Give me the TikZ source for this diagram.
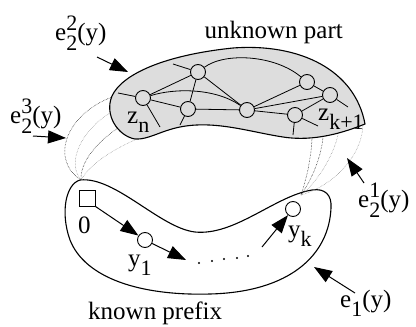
\documentclass[tikz,border=0pt]{standalone}
\usepackage{fontspec}
\setmainfont{Liberation Serif}
\usetikzlibrary{arrows.meta}
\definecolor{partgray}{RGB}{221,221,221}
\newcommand\lo[1]{\raisebox{-0.36em}{\fontsize{22}{22}\selectfont #1}}
\newcommand\hilo[2]{\makebox[0pt][l]{\raisebox{0.40em}{\fontsize{22}{22}\selectfont #1}}\raisebox{-0.40em}{\fontsize{22}{22}\selectfont #2}}
\tikzset{prefsec/.style={x=1pt,y=-1pt,font=\fontsize{25}{30}\selectfont},
  blob/.style={line width=1.1pt},
  net/.style={line width=0.8pt},
  vtx/.style={circle,draw,line width=0.9pt,minimum size=15pt,inner sep=0pt},
  txt/.style={inner sep=0pt,anchor=base west},
  bigarrow/.style={line width=1pt,-{Triangle[length=18pt,width=13pt]}},
  tie/.style={densely dotted,line width=0.5pt},
  tielt/.style={densely dotted,line width=0.5pt,gray}}

\begin{document}
\begin{tikzpicture}[prefsec]
    \useasboundingbox (0,0) rectangle (416,327);
    \fill[partgray,draw=black,blob] (112,96) .. controls (122,74) and (165,55) .. (233,48)
      .. controls (300,43) and (355,70) .. (365,124)
      .. controls (345,132) and (315,142) .. (283,137)
      .. controls (250,132) and (215,120) .. (180,127)
      .. controls (160,131) and (148,140) .. (135,139)
      .. controls (118,136) and (104,115) .. (112,96) -- cycle;
    \draw[blob] (80,180) .. controls (115,176) and (160,228) .. (195,232)
      .. controls (235,236) and (275,196) .. (312,190)
      .. controls (325,188) and (332,195) .. (331,208)
      .. controls (329,255) and (290,292) .. (210,294)
      .. controls (140,296) and (85,278) .. (70,240)
      .. controls (60,212) and (66,184) .. (80,180) -- cycle;
    \node[vtx] (zn) at (143,98) {};
    \node[vtx] (ua) at (198,72) {};
    \node[vtx] (ub) at (188,109) {};
    \node[vtx] (uc) at (247,110) {};
    \node[vtx] (ud) at (307,82) {};
    \node[vtx] (zkone) at (330,95) {};
    \node[vtx] (ue) at (295,115) {};
    \coordinate (snw) at (118,93);
    \coordinate (sse) at (160,127);
    \coordinate (sa) at (173,64);
    \coordinate (sb) at (180,125);
    \coordinate (sk) at (348,107);
    \coordinate (sed) at (293,135);
    \coordinate (ser) at (318,126);
    \foreach \a/\b in {zn/ua,zn/ub,ua/ub,ua/uc,ub/uc,uc/ud,uc/zkone,uc/ue,ud/zkone,zkone/ue,
                       zn/snw,zn/sse,ua/sa,ub/sb,zkone/sk,ue/sed,ue/ser}
      \draw[net] (\a) -- (\b);
    \draw[net] (zn) .. controls (175,88) and (215,88) .. (uc);
    \draw[net] (ua) .. controls (225,52) and (275,55) .. (ud);
    \node[txt] (znlab) at (127,123) {z\lo{n}};
    \node[txt] (zklab) at (318,120) {z\lo{k+1}};
    \node[anchor=base east,inner sep=0pt] (unk) at (343,38) {unknown part};
    \node[draw,line width=0.9pt,minimum size=16pt,inner sep=0pt] (zero) at (87,198) {};
    \node[vtx] (yone) at (145,240) {};
    \node[vtx] (yk) at (293,209) {};
    \node[txt] (zerolab) at (78,233) {0};
    \node[txt] (yonelab) at (128,266) {y\lo{1}};
    \node[txt] (yklab) at (288,237) {y\lo{k}};
    \node[txt] (kp) at (88,319) {known prefix};
    \coordinate (dotl) at (186,260);
    \coordinate (ykt) at (262,247);
    \draw[bigarrow] (zero.south east) -- (yone);
    \draw[bigarrow] (yone) -- (dotl);
    \draw[bigarrow] (ykt) -- (yk);
    \foreach \x/\y in {199/263,212/261,224/259,237/258,248/256}
      \fill (\x,\y) circle (1.1pt);
    \coordinate (la) at (112,97);
    \coordinate (lb) at (110,113);
    \coordinate (lc) at (118,128);
    \coordinate (ld) at (137,139);
    \coordinate (cl) at (81,180);
    \draw[tie] (la) .. controls (65,115) and (50,160) .. (cl);
    \draw[tielt] (lb) .. controls (82,130) and (66,162) .. (cl);
    \draw[tie] (lc) .. controls (97,142) and (80,162) .. (cl);
    \draw[tielt] (ld) .. controls (112,150) and (90,164) .. (cl);
    \coordinate (ra) at (312,139);
    \coordinate (rb) at (323,138);
    \coordinate (rc) at (338,135);
    \coordinate (rd) at (363,125);
    \coordinate (cr) at (301,195);
    \draw[tie] (ra) .. controls (311,160) and (306,180) .. (cr);
    \draw[tie] (rb) .. controls (320,162) and (310,182) .. (cr);
    \draw[tielt] (rc) .. controls (332,160) and (315,184) .. (cr);
    \draw[tielt] (rd) .. controls (362,155) and (335,185) .. (cr);
    \node[txt] (etwotwo) at (55,40) {e\hilo{2}{2}(y)};
    \node[txt] (etwothree) at (10,123) {e\hilo{3}{2}(y)};
    \node[txt] (etwoone) at (358,207) {e\hilo{1}{2}(y)};
    \node[txt] (eone) at (340,307) {e\lo{1}(y)};
    \coordinate (a1) at (97,57);   \coordinate (b1) at (128,72);
    \coordinate (a2) at (33,136);  \coordinate (b2) at (66,138);
    \coordinate (a3) at (364,183); \coordinate (b3) at (347,158);
    \coordinate (a4) at (355,293); \coordinate (b4) at (314,267);
    \draw[bigarrow] (a1) -- (b1);
    \draw[bigarrow] (a2) -- (b2);
    \draw[bigarrow] (a3) -- (b3);
    \draw[bigarrow] (a4) -- (b4);
\end{tikzpicture}
\end{document}
